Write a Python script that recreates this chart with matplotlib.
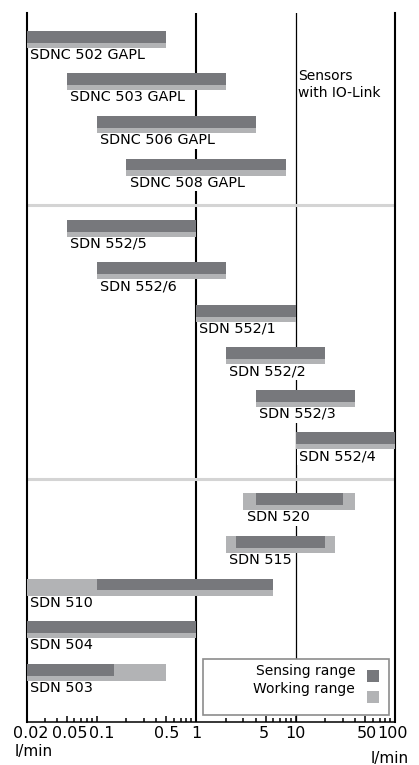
import matplotlib.pyplot as plt
from matplotlib.patches import Rectangle
from matplotlib.transforms import ScaledTranslation
import matplotlib.ticker as mticker

# sensor types, top to bottom
sensors = ['SDNC 502 GAPL', 'SDNC 503 GAPL', 'SDNC 506 GAPL', 'SDNC 508 GAPL',
           'SDN 552/5', 'SDN 552/6', 'SDN 552/1', 'SDN 552/2', 'SDN 552/3', 'SDN 552/4',
           'SDN 520', 'SDN 515', 'SDN 510', 'SDN 504', 'SDN 503']
group = [0, 0, 0, 0, 1, 1, 1, 1, 1, 1, 2, 2, 2, 2, 2]

# ranges in l/min
sense_lo = [0.02, 0.05, 0.1, 0.2, 0.05, 0.1, 1, 2, 4, 10, 4, 2.5, 0.1, 0.02, 0.02]
sense_hi = [0.5, 2, 4, 8, 1, 2, 10, 20, 40, 100, 30, 20, 6, 1, 0.15]
work_lo = [0.02, 0.05, 0.1, 0.2, 0.05, 0.1, 1, 2, 4, 10, 3, 2, 0.02, 0.02, 0.02]
work_hi = [0.5, 2, 4, 8, 1, 2, 10, 20, 40, 100, 40, 25, 6, 1, 0.5]

major_ticks = [0.02, 0.05, 0.1, 0.5, 1, 5, 10, 50, 100]
major_labels = ['0.02', '0.05', '0.1', '0.5', '1', '5', '10', '50', '100']
# small horizontal nudges of the tick labels (pixels), as in the original
label_nudge = [4, 3, 5, 1, 0, -2, 0, 2, -3]

dark = '#77787c'
light = '#b2b3b5'

W, H = 419, 765
fig = plt.figure(figsize=(W / 100, H / 100), dpi=100)
ax = fig.add_axes([27 / W, (H - 722) / H, 368 / W, 709 / H])

gap = 0.435
ypos = [i + gap * g for i, g in enumerate(group)]

# working range (full height) and sensing range on top
ax.barh(ypos, [h - l for l, h in zip(work_lo, work_hi)], left=work_lo,
        height=0.4, color=light, zorder=3)
ax.barh([y - 0.06 for y in ypos], [h - l for l, h in zip(sense_lo, sense_hi)],
        left=sense_lo, height=0.28, color=dark, zorder=4)

for name, x, y in zip(sensors, work_lo, ypos):
    ax.annotate(name, xy=(x, y + 0.2), xytext=(2.5, 0), textcoords='offset points',
                ha='left', va='top', fontsize=10.4, zorder=2,
                bbox=dict(facecolor='white', edgecolor='none', pad=1.2))

# group separators
for g in range(2):
    last = max(y for y, gg in zip(ypos, group) if gg == g)
    ax.axhline(last + 0.89, color='#d4d4d4', lw=2.2, zorder=1.5)

ax.axvline(1, color='black', lw=1.5, zorder=1)
ax.axvline(10, color='black', lw=0.9, zorder=1)

ax.set_xscale('log')
ax.set_xlim(0.02, 100)
ax.set_ylim(16.04, -0.62)
ax.set_yticks([])

ax.xaxis.set_major_locator(mticker.FixedLocator(major_ticks))
ax.xaxis.set_major_formatter(mticker.FixedFormatter(major_labels))
ax.xaxis.set_minor_locator(mticker.LogLocator(base=10, subs=range(2, 10), numticks=20))
ax.xaxis.set_minor_formatter(mticker.NullFormatter())
ax.tick_params(axis='x', which='major', direction='in', length=4.5, width=1.1,
               labelsize=11.5, pad=3)
ax.tick_params(axis='x', which='minor', direction='in', length=3, width=1.1)

for lab, dx in zip(ax.get_xticklabels(), label_nudge):
    lab.set_transform(lab.get_transform() + ScaledTranslation(dx / 100, 0, fig.dpi_scale_trans))

ax.spines['top'].set_visible(False)
ax.spines['left'].set_linewidth(1.5)
ax.spines['right'].set_linewidth(1.5)
ax.spines['bottom'].set_linewidth(1.1)

fig.text(298 / W, (H - 69) / H, 'Sensors\nwith IO-Link', fontsize=10,
         ha='left', va='top', linespacing=1.3)

# legend box
ax.add_patch(Rectangle((203 / W, (H - 715) / H), 186 / W, 56 / H,
                       transform=fig.transFigure, facecolor='white',
                       edgecolor='#8c8c8c', lw=1.2, zorder=5, clip_on=False))
fig.text(355 / W, (H - 675) / H, 'Sensing range', fontsize=10, ha='right',
         va='baseline', zorder=6)
fig.text(355 / W, (H - 693) / H, 'Working range', fontsize=10, ha='right',
         va='baseline', zorder=6)
ax.add_patch(Rectangle((367 / W, (H - 682) / H), 12 / W, 12 / H,
                       transform=fig.transFigure, facecolor=dark, lw=0,
                       zorder=6, clip_on=False))
ax.add_patch(Rectangle((367 / W, (H - 703) / H), 12 / W, 12 / H,
                       transform=fig.transFigure, facecolor=light, lw=0,
                       zorder=6, clip_on=False))

fig.text(15 / W, (H - 744) / H, 'l/min', fontsize=11, ha='left', va='top')
fig.text(390 / W, (H - 763) / H, 'l/min', fontsize=11, ha='center', va='baseline')

fig.savefig('out.png', dpi=100, facecolor='white')
